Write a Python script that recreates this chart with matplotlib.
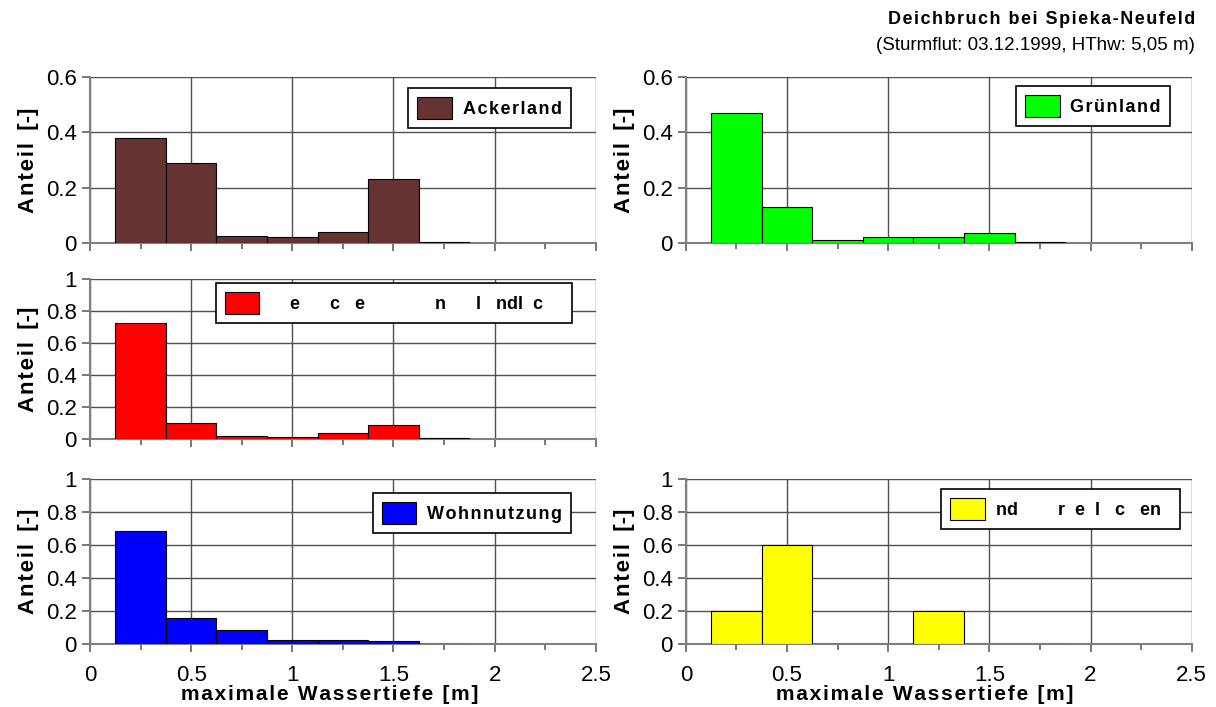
import numpy as np
import matplotlib.pyplot as plt
from matplotlib.ticker import MultipleLocator

plt.rcParams['font.family'] = ['Liberation Sans', 'DejaVu Sans']

# bin centres of the water depth classes [m]
depth = [0.25, 0.5, 0.75, 1.0, 1.25, 1.5, 1.75]
bin_width = 0.25

ackerland = [0.38, 0.29, 0.025, 0.02, 0.04, 0.23, 0.004]
gruenland = [0.47, 0.13, 0.012, 0.02, 0.02, 0.036, 0.003]
rot = [0.725, 0.10, 0.02, 0.015, 0.035, 0.088, 0.003]
wohnnutzung = [0.685, 0.16, 0.085, 0.022, 0.027, 0.02, 0.003]
gelb = [0.2, 0.6, 0.0, 0.0, 0.2, 0.0, 0.0]


def spaced(s, sep='\u200a'):
    # fake the wide letter spacing of the original
    return sep.join(s)


lbl_acker = spaced('Ackerland')
lbl_gruen = spaced('Grünland')
lbl_rot = '    e      c   e              n      l   ndl  c    '
lbl_wohn = spaced('Wohnnutzung')
lbl_gelb = 'nd        r  e  l   c   en  '

fig = plt.figure(figsize=(12.16, 7.07), dpi=100)

W = 0.416
axes_spec = [
    # left, bottom, height, ymax, data, colour, label, legend anchor, xlabels
    (0.074, 0.6563, 0.2348, 0.6, ackerland, '#663333', lbl_acker, (0.95, 0.935), False),
    (0.564, 0.6563, 0.2348, 0.6, gruenland, '#00ff00', lbl_gruen, (0.957, 0.946), False),
    (0.074, 0.3791, 0.2263, 1.0, rot, '#ff0000', lbl_rot, (0.953, 0.975), False),
    (0.074, 0.0891, 0.2334, 1.0, wohnnutzung, '#0000ff', lbl_wohn, (0.951, 0.915), True),
    (0.564, 0.0891, 0.2334, 1.0, gelb, '#ffff00', lbl_gelb, (0.976, 0.94), True),
]

for left, bottom, h, ymax, vals, col, lbl, anchor, xlab in axes_spec:
    ax = fig.add_axes([left, bottom, W, h])
    ax.bar(depth, vals, width=bin_width, color=col, edgecolor='black',
           linewidth=0.8, label=lbl, zorder=3)
    ax.set_xlim(0, 2.5)
    ax.set_ylim(0, ymax)
    ax.xaxis.set_major_locator(MultipleLocator(0.5))
    ax.xaxis.set_minor_locator(MultipleLocator(0.25))
    ax.yaxis.set_major_locator(MultipleLocator(0.2))
    ax.grid(True, which='major', color='#505050', linewidth=1.0, zorder=0)
    for s in ['top', 'right']:
        ax.spines[s].set_visible(False)
    for s in ['left', 'bottom']:
        ax.spines[s].set_color('#808080')
        ax.spines[s].set_linewidth(1.5)
    ax.tick_params(which='both', direction='out', color='#606060', width=1.2)
    ax.tick_params(which='major', length=6, labelsize=16)
    ax.tick_params(which='minor', length=4)
    ax.tick_params(axis='x', pad=9)
    ax.yaxis.set_major_formatter(plt.FuncFormatter(lambda v, p: '%g' % round(v, 1)))
    ax.xaxis.set_major_formatter(plt.FuncFormatter(lambda v, p: '%g' % v))
    ax.set_ylabel(spaced('Anteil') + '  [-]', fontsize=16, fontweight='bold', labelpad=5)
    if xlab:
        ax.set_xlabel(spaced('maximale Wassertiefe [m]'), fontsize=15,
                      fontweight='bold')
        ax.xaxis.set_label_coords(0.473, -0.25)
    else:
        ax.tick_params(axis='x', labelbottom=False)
    leg = ax.legend(loc='upper right', bbox_to_anchor=anchor, borderaxespad=0,
                    fancybox=False, framealpha=1, edgecolor='black',
                    prop={'weight': 'bold', 'size': 13},
                    handlelength=1.9, handleheight=1.5, borderpad=0.5,
                    handletextpad=0.6)
    leg.get_frame().set_linewidth(1.2)
    leg.set_zorder(5)

fig.text(0.983, 0.972, spaced('Deichbruch bei Spieka-Neufeld'), ha='right',
         va='center', fontsize=13, fontweight='bold')
fig.text(0.983, 0.936, '(Sturmflut: 03.12.1999, HThw: 5,05 m)', ha='right',
         va='center', fontsize=13.5)

fig.savefig('out.png', dpi=100)
